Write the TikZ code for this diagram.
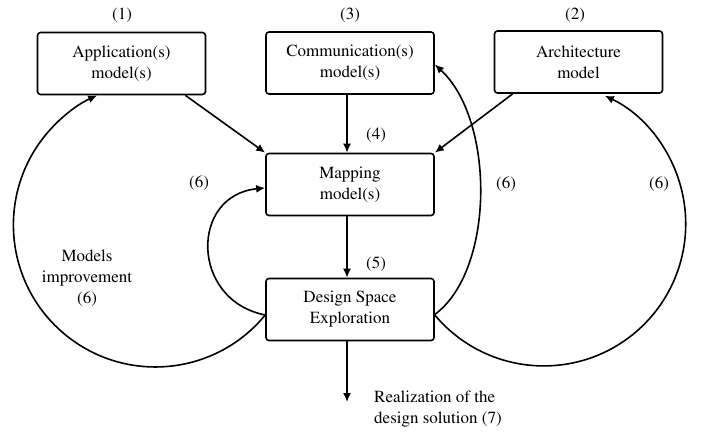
\documentclass[tikz,border=0pt]{standalone}
\usepackage[T1]{fontenc}
\renewcommand{\rmdefault}{ptm}
\usetikzlibrary{arrows.meta,calc}
\begin{document}
\begin{tikzpicture}[x=1pt,y=1pt,
  every node/.style={font=\rmfamily\fontsize{17}{21}\selectfont},
  box/.style={draw,line width=1.6pt,rounded corners=3pt,minimum width=168pt,minimum height=62pt,align=center,inner sep=0pt},
  link/.style={line width=1.6pt,-{Latex[length=9pt,width=8pt]}},
  tag/.style={inner sep=0pt}]
\useasboundingbox (0,0) rectangle (702,-434);

% model boxes
\node[box] (app)  at (121.5,-63.5) {Application(s)\\model(s)};
\node[box] (comm) at (350,-63)     {Communication(s)\\model(s)};
\node[box] (arch) at (578.5,-62)   {Architecture\\model};
\node[box] (map)  at (350,-184.5)  {Mapping\\model(s)};
\node[box] (dse)  at (350,-309.5)  {Design Space\\Exploration};

% step numbers
\node[tag] (n1) at (122,-15) {(1)};
\node[tag] (n3) at (350,-15) {(3)};
\node[tag] (n2) at (575,-15) {(2)};
\node[tag] (n4) at (376,-135) {(4)};
\node[tag] (n5) at (376,-264) {(5)};
\node[tag] (n6a) at (199,-183) {(6)};
\node[tag] (n6b) at (506,-184) {(6)};
\node[tag] (n6c) at (659,-184) {(6)};
\node[tag,align=center] (impr) at (87,-278) {Models\\improvement\\(6)};
\node[tag,align=left,anchor=west] (real) at (374,-409.5) {Realization of the\\design solution (7)};

% main flow
\draw[link] ([xshift=-21pt]app.south east) -- (map.north west);
\draw[link] ([xshift=-3pt]comm.south) -- ([xshift=-3pt]map.north);
\draw[link] ([xshift=19pt]arch.south west) -- (map.north east);
\draw[link] ([xshift=-3pt]map.south) -- ([xshift=-3pt]dse.north);
\coordinate (sol) at (347,-402);
\draw[link] ([xshift=-3pt]dse.south) -- (sol);

% feedback loops
\draw[link] ([yshift=-5.5pt]dse.west) .. controls (190,-300) and (190,-195) .. ([yshift=-3.5pt]map.west);
\draw[link] ([yshift=-5pt]dse.east) .. controls (495,-270) and (495,-120) .. ([yshift=-1.5pt]comm.east);
\draw[link] ([yshift=-5.5pt]dse.west) arc[start angle=-39.35, end angle=-245.8, radius=142];
\draw[link] ([yshift=-5.5pt]dse.east) arc[start angle=-140.1, end angle=64.5, radius=142];
\end{tikzpicture}
\end{document}
